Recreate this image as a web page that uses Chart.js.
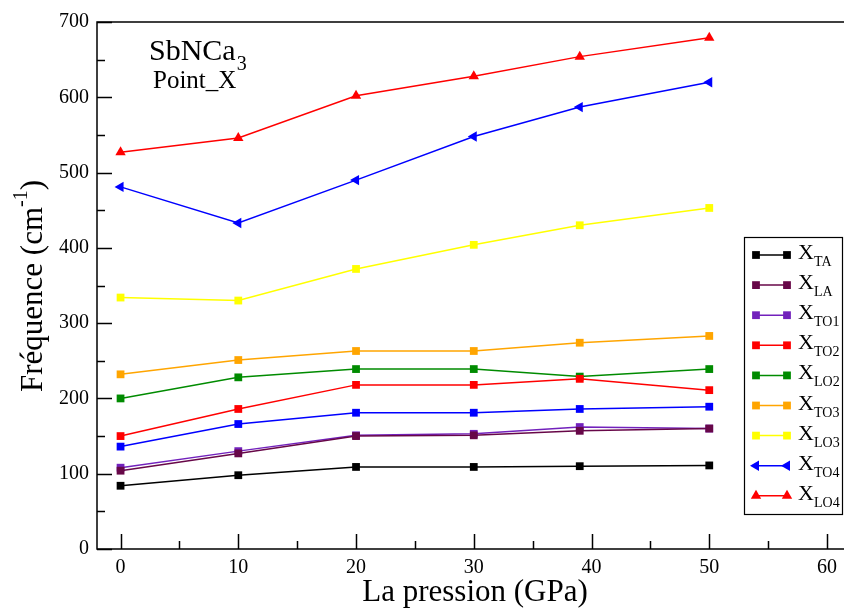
<!DOCTYPE html>
<html>
<head>
<meta charset="utf-8">
<script src="https://cdn.jsdelivr.net/npm/chart.js@4"></script>
<style>
  html, body { margin: 0; padding: 0; background: #fff; }
</style>
</head>
<body>
<canvas id="phonons" width="844" height="609"></canvas>
<script>
// pressure (GPa) and phonon frequencies (cm-1) at the X point
const pressure = [0, 10, 20, 30, 39, 50];

const xTA  = [84, 98, 109, 109, 110, 111];
const xLA  = [104, 127, 150, 151, 157, 160];
const xTO1 = [108, 130, 151, 153, 162, 160];
const xTO2 = [150, 186, 218, 218, 226, 211];
const xLO2 = [200, 228, 239, 239, 229, 239];
const xTO3 = [232, 251, 263, 263, 274, 283];
const xLO3 = [334, 330, 372, 404, 430, 453];
const xTO4 = [481, 433, 490, 548, 587, 620];
const xLO4 = [527, 546, 602, 628, 654, 679];
const xExtra = [136, 166, 181, 181, 186, 189];   // blue curve, not in the legend

const modeNames = ['TA', 'LA', 'TO1', 'TO2', 'LO2', 'TO3', 'LO3', 'TO4', 'LO4'];

const xTicks = [0, 10, 20, 30, 40, 50, 60];
const yTicks = [0, 100, 200, 300, 400, 500, 600, 700];

const FONT = "'Liberation Serif', 'DejaVu Serif', serif";

function series(label, values, color, style, rot) {
  return {
    label: label,
    data: pressure.map((p, i) => ({ x: p, y: values[i] })),
    borderColor: color,
    backgroundColor: color,
    borderWidth: 1.5,
    pointStyle: style,
    pointRotation: rot || 0,
    pointRadius: style === 'rect' ? 5.5 : 6,
    pointBorderWidth: 0,
    pointHoverRadius: 6,
    tension: 0
  };
}

const datasets = [
  series('TA',  xTA,  '#000000', 'rect'),
  series('LA',  xLA,  '#670748', 'rect'),
  series('TO1', xTO1, '#7221bc', 'rect'),
  series('TO2', xTO2, '#ff0000', 'rect'),
  series('LO2', xLO2, '#008b00', 'rect'),
  series('TO3', xTO3, '#ffa500', 'rect'),
  series('LO3', xLO3, '#ffff00', 'rect'),
  series('TO4', xTO4, '#0000ff', 'triangle', -90),
  series('LO4', xLO4, '#ff0000', 'triangle'),
  series('',    xExtra, '#0000ff', 'rect')
];

function drawMarker(ctx, ds, x, y) {
  Chart.helpers.drawPoint(ctx, {
    pointStyle: ds.pointStyle,
    rotation: ds.pointRotation,
    radius: ds.pointRadius,
    borderWidth: 0
  }, x, y);
}

// frame, inward ticks, axis titles, annotation and the legend box
const decor = {
  id: 'decor',
  afterDraw(chart) {
    const ctx = chart.ctx;
    const a = chart.chartArea;
    const xs = chart.scales.x, ys = chart.scales.y;
    ctx.save();
    ctx.strokeStyle = '#000';
    ctx.lineWidth = 1.5;
    ctx.beginPath();
    ctx.moveTo(a.right + 2, a.top);
    ctx.lineTo(a.left, a.top);
    ctx.lineTo(a.left, a.bottom);
    ctx.lineTo(a.right + 2, a.bottom);
    ctx.stroke();

    ctx.beginPath();
    for (let v = 0; v <= 60; v += 5) {
      const px = Math.round(xs.getPixelForValue(v)) + 0.5;
      const len = v % 10 === 0 ? 15 : 8;
      ctx.moveTo(px, a.bottom);
      ctx.lineTo(px, a.bottom - len);
    }
    for (let v = 0; v <= 700; v += 50) {
      const py = Math.round(ys.getPixelForValue(v)) + 0.5;
      const len = v % 100 === 0 ? 15 : 8;
      ctx.moveTo(a.left, py);
      ctx.lineTo(a.left + len, py);
    }
    ctx.stroke();

    ctx.fillStyle = '#000';
    ctx.textBaseline = 'alphabetic';

    // x title
    ctx.font = '31px ' + FONT;
    ctx.textAlign = 'center';
    ctx.fillText('La pression (GPa)', 475, 601);

    // y title with superscript
    ctx.save();
    ctx.translate(42, 286);
    ctx.rotate(-Math.PI / 2);
    ctx.textAlign = 'left';
    const main = 'Fréquence (cm', sup = '-1', close = ')';
    ctx.font = '31px ' + FONT;
    const w1 = ctx.measureText(main).width;
    const w3 = ctx.measureText(close).width;
    ctx.font = '20px ' + FONT;
    const w2 = ctx.measureText(sup).width;
    let cx = -(w1 + w2 + w3) / 2;
    ctx.font = '31px ' + FONT;
    ctx.fillText(main, cx, 0);
    cx += w1;
    ctx.font = '20px ' + FONT;
    ctx.fillText(sup, cx, -15);
    cx += w2;
    ctx.font = '31px ' + FONT;
    ctx.fillText(close, cx, 0);
    ctx.restore();

    // compound and k-point
    ctx.textAlign = 'left';
    ctx.font = '30px ' + FONT;
    ctx.fillText('SbNCa', 149, 60);
    const wS = ctx.measureText('SbNCa').width;
    ctx.font = '20px ' + FONT;
    ctx.fillText('3', 150 + wS, 70);
    ctx.font = '25px ' + FONT;
    ctx.fillText('Point_X', 153, 88);

    // legend
    const lx = 744, ly = 237, lw = 99, lh = 278;
    ctx.fillStyle = '#fff';
    ctx.fillRect(lx, ly, lw, lh);
    ctx.strokeStyle = '#000';
    ctx.lineWidth = 1.2;
    ctx.strokeRect(lx + 0.5, ly + 0.5, lw - 1, lh - 1);
    modeNames.forEach((name, i) => {
      const ds = chart.data.datasets[i];
      const y = 255 + i * 30.1;
      ctx.strokeStyle = ds.borderColor;
      ctx.fillStyle = ds.backgroundColor;
      ctx.lineWidth = 1.5;
      ctx.beginPath();
      ctx.moveTo(755, y);
      ctx.lineTo(788, y);
      ctx.stroke();
      drawMarker(ctx, ds, 756, y);
      drawMarker(ctx, ds, 787, y);
      ctx.fillStyle = '#000';
      ctx.font = '22px ' + FONT;
      ctx.fillText('X', 798, y + 4);
      ctx.font = '14px ' + FONT;
      ctx.fillText(name, 814, y + 11);
    });
    ctx.restore();
  }
};

new Chart(document.getElementById('phonons'), {
  type: 'line',
  data: { datasets: datasets },
  options: {
    responsive: false,
    animation: false,
    devicePixelRatio: 1,
    layout: { autoPadding: false, padding: { left: 0, top: 22, right: 0, bottom: 0 } },
    plugins: {
      legend: { display: false },
      tooltip: { enabled: false }
    },
    scales: {
      x: {
        type: 'linear',
        min: -2,
        max: 61.35,
        afterFit: s => { s.height = 60; },
        afterBuildTicks: s => { s.ticks = xTicks.map(v => ({ value: v })); },
        grid: { display: false, drawTicks: false },
        border: { display: false },
        ticks: { color: '#000', font: { family: FONT, size: 20 }, padding: 7, maxRotation: 0 }
      },
      y: {
        min: 0,
        max: 700,
        afterFit: s => { s.width = 97; },
        afterBuildTicks: s => { s.ticks = yTicks.map(v => ({ value: v })); },
        grid: { display: false, drawTicks: false },
        border: { display: false },
        ticks: { color: '#000', font: { family: FONT, size: 20 }, padding: 8 }
      }
    }
  },
  plugins: [decor]
});
</script>
</body>
</html>
